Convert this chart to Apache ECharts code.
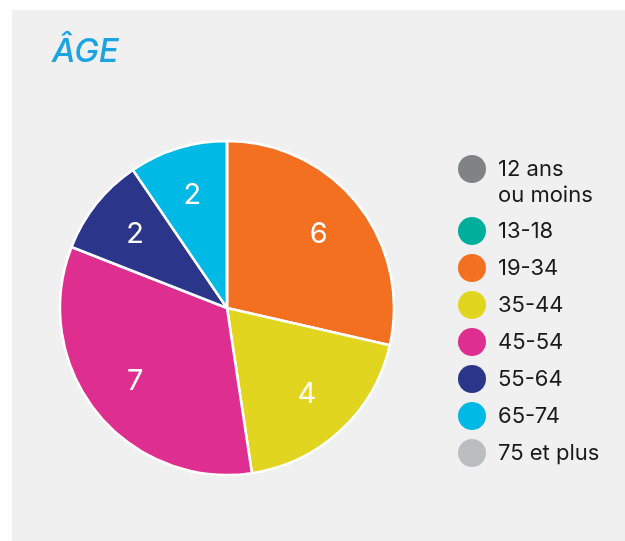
<!DOCTYPE html>
<html><head><meta charset="utf-8">
<script src="https://cdn.jsdelivr.net/npm/echarts@6/dist/echarts.min.js"></script>
<style>html,body{margin:0;padding:0;background:#fff;}#c{position:absolute;left:12px;top:10px;width:613px;height:531px;background:#f0f0f0;}</style>
</head><body><div id="c"></div>
<script>
const titleText = 'ÂGE';
const categories = ['12 ans ou moins', '13-18', '19-34', '35-44', '45-54', '55-64', '65-74', '75 et plus'];
const values = [0, 0, 6, 4, 7, 2, 2, 0];
const colors = ['#808285', '#00ae9c', '#f37021', '#e1d51f', '#de2e8f', '#2b3589', '#00b9e4', '#bcbdc0'];

const data = categories.map((n, i) => ({name: n, value: values[i], itemStyle: {color: colors[i]}}));
const labelData = categories.map((n, i) => ({name: n, value: values[i]}));
const chart = echarts.init(document.getElementById('c'));
chart.setOption({
  backgroundColor: '#f0f0f0',
  animation: false,
  title: {text: titleText, left: 35, top: 21, textStyle: {fontFamily: 'Inter', fontStyle: 'italic', fontWeight: 500, fontSize: 33, color: '#1ca4e2'}},
  legend: {
    orient: 'vertical', left: 441, top: 115, itemWidth: 28, itemHeight: 28, itemGap: 9, icon: 'circle',
    itemStyle: {borderWidth: 0},
    data: categories,
    formatter: n => n === '12 ans ou moins' ? '\n12 ans\nou moins' : n,
    textStyle: {fontFamily: 'Inter', fontSize: 22, lineHeight: 26, color: '#1a1a1a', padding: [0,0,0,7]}
  },
  series: [{
    type: 'pie', radius: [0, 167], center: [215, 298], startAngle: 90, clockwise: true,
    stillShowZeroSum: true, label: {show: false}, labelLine: {show: false},
    itemStyle: {borderColor: '#ffffff', borderWidth: 2.5},
    emphasis: {disabled: true},
    data: data
  }, {
    type: 'pie', radius: [62, 167], center: [215, 298], startAngle: 90, clockwise: true, silent: true,
    itemStyle: {color: 'rgba(0,0,0,0)', borderWidth: 0}, labelLine: {show: false}, legendHoverLink: false,
    label: {show: true, position: 'inside', color: '#ffffff', fontFamily: 'Inter', fontSize: 29,
      formatter: p => p.value > 0 ? String(p.value) : ''},
    emphasis: {disabled: true},
    data: labelData
  }]
});
</script></body></html>
